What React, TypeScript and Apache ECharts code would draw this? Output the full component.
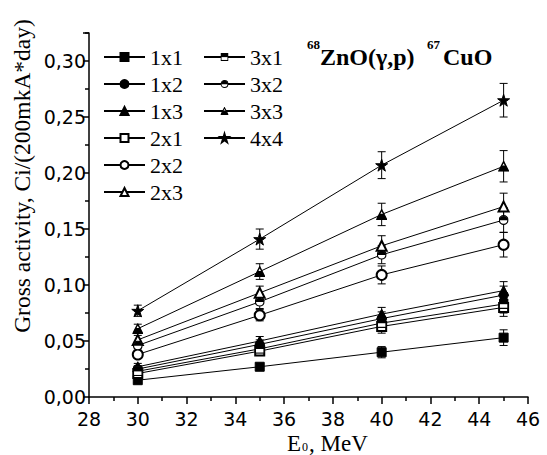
import React, { useEffect, useRef } from 'react';
import * as echarts from 'echarts';

// ---- data ----
const energies = [30, 35, 40, 45];
const seriesNames = ['1x1', '1x2', '1x3', '2x1', '2x2', '2x3', '3x1', '3x2', '3x3', '4x4'];

const v1x1 = [0.015, 0.027, 0.040, 0.053];
const v1x2 = [0.025, 0.047, 0.070, 0.091];
const v1x3 = [0.027, 0.050, 0.074, 0.095];
const v2x1 = [0.021, 0.041, 0.063, 0.080];
const v2x2 = [0.038, 0.073, 0.109, 0.136];
const v2x3 = [0.051, 0.093, 0.135, 0.170];
const v3x1 = [0.023, 0.043, 0.066, 0.083];
const v3x2 = [0.046, 0.085, 0.127, 0.158];
const v3x3 = [0.061, 0.112, 0.163, 0.206];
const v4x4 = [0.077, 0.141, 0.207, 0.265];

const e1x1 = [0.002, 0.003, 0.005, 0.007];
const e1x2 = [0.003, 0.004, 0.006, 0.008];
const e1x3 = [0.003, 0.004, 0.006, 0.008];
const e2x1 = [0.003, 0.004, 0.006, 0.008];
const e2x2 = [0.003, 0.005, 0.008, 0.011];
const e2x3 = [0.004, 0.006, 0.009, 0.012];
const e3x1 = [0.003, 0.004, 0.006, 0.008];
const e3x2 = [0.003, 0.006, 0.008, 0.011];
const e3x3 = [0.004, 0.007, 0.010, 0.014];
const e4x4 = [0.005, 0.009, 0.012, 0.015];

const xTicks = { min: 28, max: 46, interval: 2 };
const yTicks = { min: 0, max: 0.325, interval: 0.05 };

// ---- symbols ----
const svgImg = (body: string) =>
  'image://data:image/svg+xml;charset=utf-8,' +
  encodeURIComponent(
    "<svg xmlns='http://www.w3.org/2000/svg' width='20' height='20' viewBox='0 0 10 10'>" + body + '</svg>'
  );
const halfSquare = svgImg(
  "<rect x='0.65' y='0.65' width='8.7' height='8.7' fill='white' stroke='black' stroke-width='1.3'/>" +
    "<rect x='0.65' y='0.65' width='8.7' height='4.5' fill='black'/>"
);
const halfCircle = svgImg(
  "<circle cx='5' cy='5' r='4.35' fill='white' stroke='black' stroke-width='1.3'/>" +
    "<path d='M0.65 5.2A4.35 4.35 0 0 1 9.35 5.2Z' fill='black'/>"
);
const halfTriangle = svgImg(
  "<polygon points='5,0.8 9.4,9.4 0.6,9.4' fill='white' stroke='black' stroke-width='1.3' stroke-linejoin='miter'/>" +
    "<polygon points='3.1,4.4 6.9,4.4 9.4,9.4 0.6,9.4' fill='black'/>"
);
const star =
  'path://M5 0L6.123 3.455L9.755 3.455L6.816 5.59L7.939 9.045L5 6.91L2.061 9.045L3.184 5.59L0.245 3.455L3.877 3.455Z';

const values = [v1x1, v1x2, v1x3, v2x1, v2x2, v2x3, v3x1, v3x2, v3x3, v4x4];
const errors = [e1x1, e1x2, e1x3, e2x1, e2x2, e2x3, e3x1, e3x2, e3x3, e4x4];
const symbols = [
  'rect', 'circle', 'triangle',
  'emptyRect', 'emptyCircle', 'emptyTriangle',
  halfSquare, halfCircle, halfTriangle,
  star,
];
const symbolSizes = [9, 9, 10, 9, 10, 10, 10, 10, 11, 12];

const fmtY = (v: number) => v.toFixed(2).replace('.', ',');

export default function App() {
  const ref = useRef<HTMLDivElement>(null);

  useEffect(() => {
    if (!ref.current) return;
    const chart = echarts.init(ref.current, undefined, { renderer: 'svg' });

    const lineSeries = seriesNames.map((name, i) => ({
      name,
      type: 'line',
      data: energies.map((x, j) => [x, values[i][j]]),
      symbol: symbols[i],
      symbolSize: symbolSizes[i],
      showSymbol: true,
      lineStyle: { color: '#000', width: 1 },
      itemStyle: { color: '#000', borderColor: '#000', borderWidth: 1 },
      emphasis: { disabled: true },
      z: 3,
    }));

    const errData: number[][] = [];
    seriesNames.forEach((_, i) => {
      energies.forEach((x, j) => errData.push([x, values[i][j], errors[i][j]]));
    });

    const errSeries = {
      type: 'custom',
      name: 'err',
      data: errData,
      encode: { x: 0, y: 1 },
      z: 2,
      silent: true,
      renderItem: (params: any, api: any) => {
        const x = api.value(0);
        const y = api.value(1);
        const e = api.value(2);
        const top = api.coord([x, y + e]);
        const bot = api.coord([x, y - e]);
        const hw = 4;
        const st = { stroke: '#000', lineWidth: 1 };
        return {
          type: 'group',
          children: [
            { type: 'line', shape: { x1: top[0], y1: top[1], x2: bot[0], y2: bot[1] }, style: st },
            { type: 'line', shape: { x1: top[0] - hw, y1: top[1], x2: top[0] + hw, y2: top[1] }, style: st },
            { type: 'line', shape: { x1: bot[0] - hw, y1: bot[1], x2: bot[0] + hw, y2: bot[1] }, style: st },
          ],
        };
      },
    };

    const serif = '"Liberation Serif", "Times New Roman", serif';

    chart.setOption({
      animation: false,
      backgroundColor: '#fff',
      grid: { left: 89, right: 19, top: 33, bottom: 58, containLabel: false, outerBoundsMode: 'none' },
      xAxis: {
        type: 'value',
        min: xTicks.min,
        max: xTicks.max,
        interval: xTicks.interval,
        axisLine: { lineStyle: { color: '#000', width: 1.5 } },
        axisTick: { show: true, inside: false, length: 7, lineStyle: { color: '#000', width: 1.5 } },
        minorTick: { show: true, splitNumber: 2, length: 4, lineStyle: { color: '#000', width: 1.5 } },
        splitLine: { show: false },
        axisLabel: { color: '#000', fontFamily: '"DejaVu Sans"', fontSize: 19, margin: 12 },
      },
      yAxis: {
        type: 'value',
        min: yTicks.min,
        max: yTicks.max,
        interval: yTicks.interval,
        axisLine: { show: true, lineStyle: { color: '#000', width: 1.5 } },
        axisTick: { show: true, inside: false, length: 6, lineStyle: { color: '#000', width: 1.5 } },
        minorTick: { show: true, splitNumber: 2, length: 4, lineStyle: { color: '#000', width: 1.5 } },
        splitLine: { show: false },
        axisLabel: {
          color: '#000',
          fontFamily: '"DejaVu Sans"',
          fontSize: 19,
          margin: 3,
          showMaxLabel: false,
          formatter: fmtY,
        },
      },
      legend: {
        data: seriesNames,
        orient: 'vertical',
        left: 103,
        top: 46,
        height: 160,
        itemWidth: 41,
        itemHeight: 10,
        itemGap: 5,
        padding: 0,
        selectedMode: false,
        textStyle: { color: '#000', fontFamily: serif, fontSize: 22, lineHeight: 22, width: 48 },
      },
      graphic: [
        {
          type: 'text',
          x: 22,
          y: 176,
          rotation: Math.PI / 2,
          style: {
            text: 'Gross activity, Ci/(200mkA*day)',
            font: '23.5px ' + serif,
            fill: '#000',
            textAlign: 'center',
            textVerticalAlign: 'middle',
          },
        },
        {
          type: 'text',
          x: 287,
          y: 443,
          style: {
            text: 'E',
            font: '23px ' + serif,
            fill: '#000',
            textAlign: 'left',
            textVerticalAlign: 'middle',
          },
        },
        {
          type: 'text',
          x: 302,
          y: 447,
          style: {
            text: '0',
            font: '12px ' + serif,
            fill: '#000',
            textAlign: 'left',
            textVerticalAlign: 'middle',
          },
        },
        {
          type: 'text',
          x: 309,
          y: 443,
          style: {
            text: ', MeV',
            font: '23px ' + serif,
            fill: '#000',
            textAlign: 'left',
            textVerticalAlign: 'middle',
          },
        },
        {
          type: 'text',
          x: 307,
          y: 44,
          style: { text: '68', font: 'bold 13px ' + serif, fill: '#000', textAlign: 'left', textVerticalAlign: 'middle' },
        },
        {
          type: 'text',
          x: 320,
          y: 57,
          style: { text: 'ZnO(γ,p)', font: 'bold 24px ' + serif, fill: '#000', textAlign: 'left', textVerticalAlign: 'middle' },
        },
        {
          type: 'text',
          x: 427,
          y: 44,
          style: { text: '67', font: 'bold 13px ' + serif, fill: '#000', textAlign: 'left', textVerticalAlign: 'middle' },
        },
        {
          type: 'text',
          x: 443,
          y: 57,
          style: { text: 'CuO', font: 'bold 24px ' + serif, fill: '#000', textAlign: 'left', textVerticalAlign: 'middle' },
        },
      ],
      series: [errSeries, ...lineSeries],
    });

    return () => chart.dispose();
  }, []);

  return (
    <div
      ref={ref}
      style={{ position: 'fixed', left: 0, top: 0, width: 547, height: 455, background: '#fff' }}
    />
  );
}
